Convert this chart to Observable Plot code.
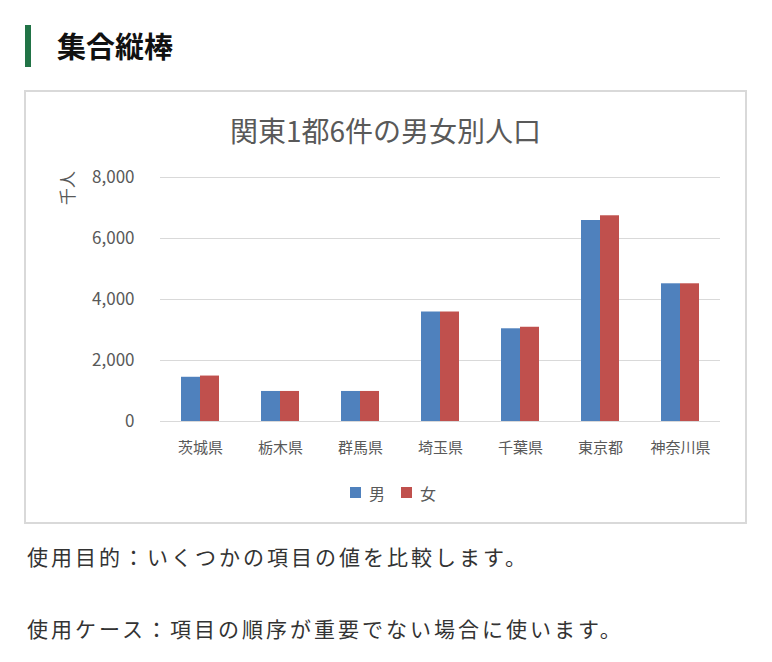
<!DOCTYPE html>
<html lang="ja">
<head>
<meta charset="utf-8">
<script src="https://cdn.jsdelivr.net/npm/d3@7"></script>
<script src="https://cdn.jsdelivr.net/npm/@observablehq/plot@0.6"></script>
<style>
  html, body { margin: 0; padding: 0; background: #fff; }
  #page { position: relative; width: 772px; height: 662px; overflow: hidden; background: #fff;
          font-family: "Noto Sans CJK JP", "Noto Sans", sans-serif; }
  .abs { position: absolute; }
  #greenbar { left: 25px; top: 25px; width: 6px; height: 42px; background: #217346; }
  #heading { left: 57px; top: 29px; font-size: 29px; line-height: 32px; font-weight: bold; color: #111; }
  #box { left: 24px; top: 90px; width: 723px; height: 434px; border: 2px solid #d9d9d9; box-sizing: border-box; }
  #title { left: 25px; width: 721px; top: 114px; text-align: center; font-size: 28px; line-height: 32px; color: #595959; }
  #ylabel { left: 67px; top: 188px; transform: translate(-50%, -50%) rotate(-90deg); font-size: 17px; color: #595959; white-space: nowrap; line-height: 20px; }
  #chart { left: 26px; top: 160px; }
  #chart g[aria-label^="y-axis"], #chart g[aria-label^="y-axis"] text { font-size: 17px; }
  #legend { left: 350px; top: 476px; }
  .note { left: 27px; font-size: 21px; line-height: 26px; letter-spacing: 3px; color: #333; white-space: nowrap; }
</style>
</head>
<body>
<div id="page">
  <div id="greenbar" class="abs"></div>
  <div id="heading" class="abs">集合縦棒</div>
  <div id="box" class="abs"></div>
  <div id="title" class="abs">関東1都6件の男女別人口</div>
  <div id="ylabel" class="abs">千人</div>
  <div id="chart" class="abs"></div>
  <div id="legend" class="abs"></div>
  <div class="abs note" style="top:543px">使用目的：いくつかの項目の値を比較します。</div>
  <div class="abs note" style="top:615px">使用ケース：項目の順序が重要でない場合に使います。</div>
</div>
<script>
const prefs = ["茨城県", "栃木県", "群馬県", "埼玉県", "千葉県", "東京都", "神奈川県"];
const male = [1450, 985, 985, 3590, 3040, 6590, 4515];
const female = [1490, 985, 985, 3590, 3090, 6745, 4515];
const sexes = ["男", "女"];
const colors = ["#4F81BD", "#C0504D"];
const yTicks = [0, 2000, 4000, 6000, 8000];

const rows = prefs.flatMap((p, i) => [
  {pref: p, sex: sexes[0], value: male[i]},
  {pref: p, sex: sexes[1], value: female[i]}
]);

const fmt = d3.format(",.0f");

const chart = Plot.plot({
  width: 719,
  height: 301,
  marginLeft: 131,
  marginRight: 22,
  marginTop: 17,
  marginBottom: 40,
  style: {fontFamily: "'Noto Sans CJK JP', sans-serif", fontSize: "15px", color: "#595959", background: "transparent", overflow: "visible"},
  facet: {data: rows, x: "pref"},
  fx: {domain: prefs, padding: 0, axis: "bottom", label: null, tickSize: 0, tickPadding: 21},
  x: {domain: sexes, axis: null, paddingInner: 0, paddingOuter: 1.07},
  y: {domain: [0, 8000], ticks: 4, tickFormat: fmt, tickSize: 0, tickPadding: 26, label: null},
  color: {domain: sexes, range: colors},
  marks: [
    Plot.ruleY(yTicks, {stroke: "#d9d9d9", strokeWidth: 1}),
    Plot.barY(rows, {x: "sex", y: "value", fill: "sex"})
  ]
});
document.getElementById("chart").appendChild(chart);

const legend = Plot.legend({
  color: {domain: sexes, range: colors},
  swatchSize: 11,
  style: {fontFamily: "'Noto Sans CJK JP', sans-serif", fontSize: "16px", color: "#595959", marginLeft: "0px"}
});
document.getElementById("legend").appendChild(legend);
</script>
</body>
</html>
